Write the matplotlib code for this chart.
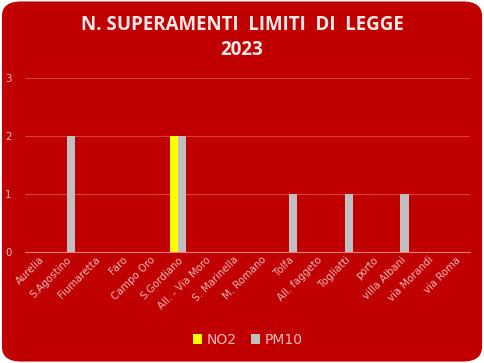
import numpy as np
import matplotlib.pyplot as plt
from matplotlib.patches import FancyBboxPatch

# Dati
stazioni = ['Aurelia', 'S.Agostino', 'Fiumaretta', 'Faro', 'Campo Oro', 'S.Gordiano',
            'All. - Via Moro', 'S. Marinella', 'M. Romano', 'Tolfa', 'All. faggeto',
            'Togliatti', 'porto', 'villa Albani', 'via Morandi', 'via Roma']
no2 = [0, 0, 0, 0, 0, 2, 0, 0, 0, 0, 0, 0, 0, 0, 0, 0]
pm10 = [0, 2, 0, 0, 0, 2, 0, 0, 0, 1, 0, 1, 0, 1, 0, 0]

rosso = '#C00000'
testo = '#F4B8B8'

fig = plt.figure(figsize=(4.84, 3.63), dpi=100, facecolor='white')
sfondo = FancyBboxPatch((0.004, 0.004), 0.992, 0.992, boxstyle='round,pad=0,rounding_size=0.04',
                        transform=fig.transFigure, facecolor=rosso, edgecolor='none', zorder=-10)
fig.patches.append(sfondo)

ax = fig.add_axes([0.052, 0.306, 0.919, 0.479])
ax.set_facecolor('none')

x = np.arange(len(stazioni))
w = 0.29
ax.bar(x - w / 2, no2, w, color='#FFFF00', label='NO2', zorder=3)
ax.bar(x + w / 2, pm10, w, color='#BFBFBF', label='PM10', zorder=3)

ax.set_xlim(-0.5, len(stazioni) - 0.5)
ax.set_ylim(0, 3)
ax.set_yticks([0, 1, 2, 3])
ax.grid(axis='y', color='#D84040', linewidth=0.8, zorder=0)
for s in ['top', 'right', 'left']:
    ax.spines[s].set_visible(False)
ax.spines['bottom'].set_color('#E88080')
ax.tick_params(length=0, colors=testo, labelsize=7.3)
ax.tick_params(axis='y', pad=10)
ax.tick_params(axis='x', pad=2)
ax.set_xticks(x)
ax.set_xticklabels(stazioni, rotation=45, ha='right', rotation_mode='anchor')

fig.text(0.5, 0.932, 'N. SUPERAMENTI  LIMITI  DI  LEGGE', ha='center', va='center',
         color='#F8E8E8', fontsize=13.5, fontweight='bold', family='Open Sans')
fig.text(0.5, 0.862, '2023', ha='center', va='center',
         color='#F8E8E8', fontsize=13.5, fontweight='bold', family='Open Sans')

leg = ax.legend(loc='center', bbox_to_anchor=(0.5, -0.506), ncol=2, frameon=False,
                fontsize=10, handlelength=0.7, handleheight=0.7, handletextpad=0.3,
                columnspacing=1.0)
for t in leg.get_texts():
    t.set_color(testo)

fig.savefig('out.png', dpi=100, facecolor='white')
